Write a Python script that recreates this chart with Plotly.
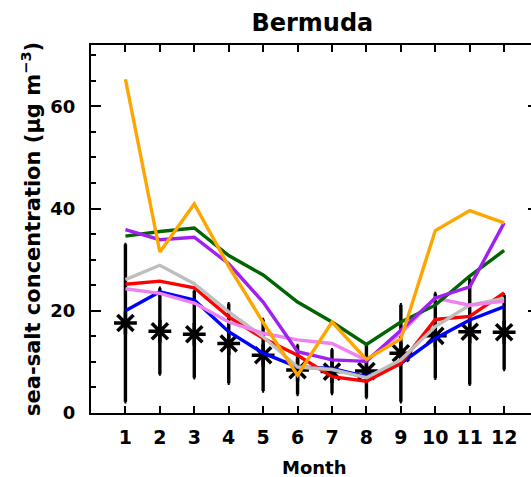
import plotly.graph_objects as go

# Monthly sea-salt concentration at Bermuda (ug m^-3)
months = list(range(1, 13))
month_labels = [str(m) for m in months]

obs = [17.6, 16.0, 15.4, 13.6, 11.3, 8.4, 8.1, 8.2, 11.7, 15.1, 15.9, 15.8]
obs_err = [15.4, 8.4, 8.5, 7.8, 7.0, 4.8, 4.3, 5.2, 9.5, 8.3, 10.3, 7.3]

model_blue = [20.0, 23.7, 22.1, 15.9, 11.7, 9.0, 8.7, 7.1, 9.7, 14.6, 18.2, 20.8]
model_red = [25.2, 25.8, 24.5, 18.8, 14.6, 11.3, 7.1, 6.2, 9.7, 18.3, 18.9, 23.5]
model_gray = [26.1, 28.9, 25.3, 19.8, 14.9, 9.0, 8.5, 6.9, 10.4, 16.9, 21.1, 22.4]
model_violet = [24.3, 23.4, 21.5, 17.8, 15.6, 14.3, 13.6, 10.3, 15.6, 22.5, 21.1, 21.9]
model_green = [34.6, 35.5, 36.2, 30.8, 27.0, 21.7, 17.8, 13.4, 17.8, 21.1, 26.8, 31.8]
model_purple = [35.9, 33.9, 34.4, 29.2, 21.7, 12.0, 10.4, 10.1, 16.2, 22.5, 24.7, 37.2]
model_orange = [65.3, 31.5, 40.9, 28.7, 17.7, 7.4, 17.8, 10.5, 14.5, 35.7, 39.6, 37.2]

y_ticks = [0, 20, 40, 60]

FONT = "DejaVu Sans"
PLOT_TOP, PLOT_BOTTOM, PLOT_LEFT = 45, 413, 91
PLOT_H = PLOT_BOTTOM - PLOT_TOP
PLOT_W = 531 - PLOT_LEFT

fig = go.Figure()

# observations: black asterisks with error bars
fig.add_trace(go.Scatter(
    x=months, y=obs, mode="markers",
    marker=dict(symbol="asterisk-open", size=19, color="black",
                line=dict(color="black", width=3.5)),
    error_y=dict(type="data", array=obs_err, visible=True,
                 color="black", thickness=3.4, width=1),
    showlegend=False,
))

models = [
    ("blue", model_blue, "#0000FF"),
    ("red", model_red, "#FF0000"),
    ("gray", model_gray, "#BEBEBE"),
    ("violet", model_violet, "#EE82EE"),
    ("green", model_green, "#006400"),
    ("purple", model_purple, "#A020F0"),
    ("orange", model_orange, "#FFA500"),
]
for name, vals, col in models:
    fig.add_trace(go.Scatter(
        x=months, y=vals, mode="lines", name=name,
        line=dict(color=col, width=3.4), showlegend=False,
    ))

# helper trace so the right-hand tick stubs get an axis
fig.add_trace(go.Scatter(x=[months[0]], y=[y_ticks[0]], yaxis="y2",
                         mode="markers", marker=dict(opacity=0),
                         showlegend=False, hoverinfo="skip"))

fig.update_layout(
    width=531, height=477,
    margin=dict(l=PLOT_LEFT, r=0, t=PLOT_TOP, b=477 - PLOT_BOTTOM),
    paper_bgcolor="white", plot_bgcolor="white",
    font=dict(family=FONT, color="black"),
    title=dict(text="<b>Bermuda</b>", font=dict(size=24, family=FONT),
               x=0.503, xref="paper", xanchor="center",
               y=1 - 23 / 477, yref="container", yanchor="middle"),
    xaxis=dict(
        range=[0, 12.78], tickvals=months, ticktext=month_labels,
        ticks="inside", ticklen=7, tickwidth=2, tickcolor="black",
        showline=True, linecolor="black", linewidth=2, mirror="ticks",
        showgrid=False, zeroline=False,
        tickfont=dict(size=19, family=FONT, weight="bold"),
        ticklabelstandoff=6,
    ),
    yaxis=dict(
        range=[0, 72], tickvals=y_ticks,
        ticks="inside", ticklen=10, tickwidth=2, tickcolor="black",
        minor=dict(dtick=5, ticks="inside", ticklen=5, tickwidth=2,
                   tickcolor="black", showgrid=False),
        showline=True, linecolor="black", linewidth=2, mirror=False,
        showgrid=False, zeroline=False,
        tickfont=dict(size=18, family=FONT, weight="bold"),
        ticklabelstandoff=10,
    ),
    yaxis2=dict(
        range=[0, 72], overlaying="y", side="right", tickvals=y_ticks,
        ticks="inside", ticklen=3, tickwidth=2, tickcolor="black",
        showticklabels=False, showline=False, showgrid=False,
        zeroline=False,
    ),
    annotations=[
        dict(text="<b>Month</b>", x=6.5, xref="x",
             y=(PLOT_BOTTOM - 467) / PLOT_H, yref="paper",
             yanchor="middle", xanchor="center",
             showarrow=False, font=dict(size=18, family=FONT)),
        dict(text="<b>sea-salt concentration (μg m<sup>−3</sup>)</b>",
             textangle=-90, x=(31 - PLOT_LEFT) / PLOT_W, xref="paper",
             y=0.5, yref="paper", xanchor="center", yanchor="middle",
             showarrow=False, font=dict(size=21, family=FONT)),
    ],
)

fig.write_html("out.html")
